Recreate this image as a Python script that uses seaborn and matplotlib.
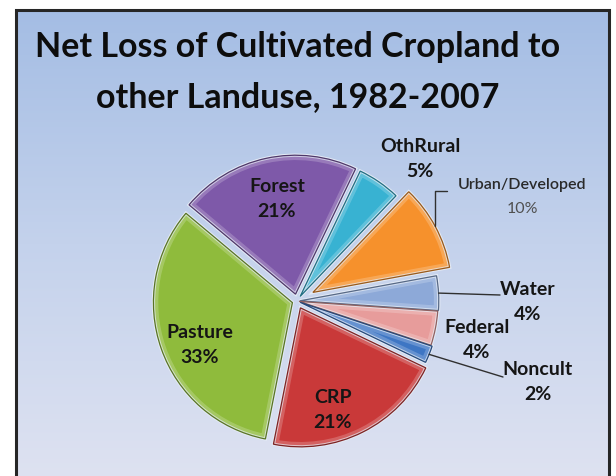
import numpy as np
import matplotlib
matplotlib.use("Agg")
import matplotlib.pyplot as plt
from matplotlib.patches import Rectangle, Wedge
import seaborn as sns

# Net loss of cultivated cropland by destination land use, 1982-2007 (%)
categories = ["Forest", "OthRural", "Urban/Developed", "Water",
              "Federal", "Noncult", "CRP", "Pasture"]
shares = [21, 5, 10, 4, 4, 2, 21, 33]
title_lines = ["Net Loss of Cultivated Cropland to", "other Landuse, 1982-2007"]

slice_hex = ["#7E59A9", "#38B2D2", "#F6912C", "#8DA9D8",
             "#E79C9B", "#3E76C4", "#C93939", "#8FBB3C"]
# offset of each slice from the centre, as a fraction of the radius
explode = [0.05, 0.04, 0.13, 0.02, 0.015, 0.025, 0.055, 0.035]

# label centres (pixels from top-left) and font sizes
label_xy = [(277, 199), (420, 159), (522, 197), (528, 302),
            (477, 340), (538, 382), (333, 410), (200, 345)]
label_size = [14, 14, 11.5, 14, 14, 14, 14, 14]

sns.set_style("white")
plt.rcParams["font.family"] = ["Lato", "DejaVu Sans"]

W, H = 616, 476
fig = plt.figure(figsize=(W / 100, H / 100), dpi=100)
ax = fig.add_axes([0, 0, 1, 1])

def py(y_img):
    return H - y_img

# chart area: vertical blue gradient inside a dark frame
frame_l, frame_r, frame_t = 16, 609, 10
stops_y = np.array([0.0, 0.5, 1.0])
stops_c = np.array([[164, 189, 228], [196, 210, 236], [222, 226, 241]]) / 255.0
t = np.linspace(0, 1, 256)
grad = np.stack([np.interp(t, stops_y, stops_c[:, k]) for k in range(3)], axis=1)
ax.imshow(grad[:, None, :], extent=(frame_l, frame_r, -2, py(frame_t)),
          aspect="auto", origin="upper", zorder=0, interpolation="bilinear")
ax.add_patch(Rectangle((frame_l, -10), frame_r - frame_l, py(frame_t) + 10,
                       fill=False, edgecolor="#262626", linewidth=2.2, zorder=5))

R = 139  # pie radius in pixels
palette = sns.color_palette(slice_hex)
wedges, _ = ax.pie(shares, colors=palette, explode=[e * R for e in explode],
                   startangle=140, counterclock=False, radius=R,
                   center=(297, py(301)), wedgeprops=dict(linewidth=0),
                   frame=False)

for w, col in zip(wedges, palette):
    w.set_zorder(2)
    light = tuple(np.clip(np.array(col) * 0.55 + 0.45, 0, 1))
    dark = tuple(np.array(col) * 0.62)
    # pale seam around each slice
    ax.add_patch(Wedge(w.center, w.r, w.theta1, w.theta2, fill=False,
                       edgecolor="#E3EAF5", linewidth=2.4, zorder=2.5,
                       joinstyle="miter"))
    rim = Wedge(w.center, w.r, w.theta1, w.theta2, fill=False,
                edgecolor=light, linewidth=7, alpha=0.45, zorder=3)
    ax.add_patch(rim)
    rim.set_clip_path(w)
    ax.add_patch(Wedge(w.center, w.r, w.theta1, w.theta2, fill=False,
                       edgecolor=dark, linewidth=0.9, zorder=4))

def arc_mid(w):
    a = np.deg2rad((w.theta1 + w.theta2) / 2)
    return w.center[0] + w.r * np.cos(a), w.center[1] + w.r * np.sin(a)

# leader lines for the outer labels
lc = "#303030"
ux, uy = arc_mid(wedges[2])
ax.plot([ux, ux, 447], [uy, py(191), py(191)], color=lc, lw=1, zorder=4)
wx, wy = arc_mid(wedges[3])
ax.plot([wx, 500], [wy, py(295)], color=lc, lw=1, zorder=4)
nx, ny = arc_mid(wedges[5])
ax.plot([nx, 503], [ny, py(377)], color=lc, lw=1, zorder=4)

for i, (name, val) in enumerate(zip(categories, shares)):
    x, y = label_xy[i]
    fs = label_size[i]
    if name == "Urban/Developed":
        ax.text(x, py(y - 12), name, ha="center", va="center", fontsize=fs,
                fontweight="semibold", color="#2a2a2a", zorder=6)
        ax.text(x, py(y + 12), f"{val}%", ha="center", va="center", fontsize=fs,
                fontweight="normal", color="#505050", zorder=6)
    else:
        ax.text(x, py(y - 12.5), name, ha="center", va="center", fontsize=fs,
                fontweight="bold", color="#151515", zorder=6)
        ax.text(x, py(y + 12.5), f"{val}%", ha="center", va="center", fontsize=fs,
                fontweight="bold", color="#151515", zorder=6)

ax.text(298, py(57), title_lines[0], ha="center", va="baseline",
        fontsize=24.5, fontweight="bold", color="#0d0d0d", zorder=6)
ax.text(298, py(107), title_lines[1], ha="center", va="baseline",
        fontsize=24.5, fontweight="bold", color="#0d0d0d", zorder=6)

ax.set_xlim(0, W)
ax.set_ylim(0, H)
ax.set_aspect("equal")
ax.axis("off")
fig.savefig("out.png", dpi=100, facecolor="white")
